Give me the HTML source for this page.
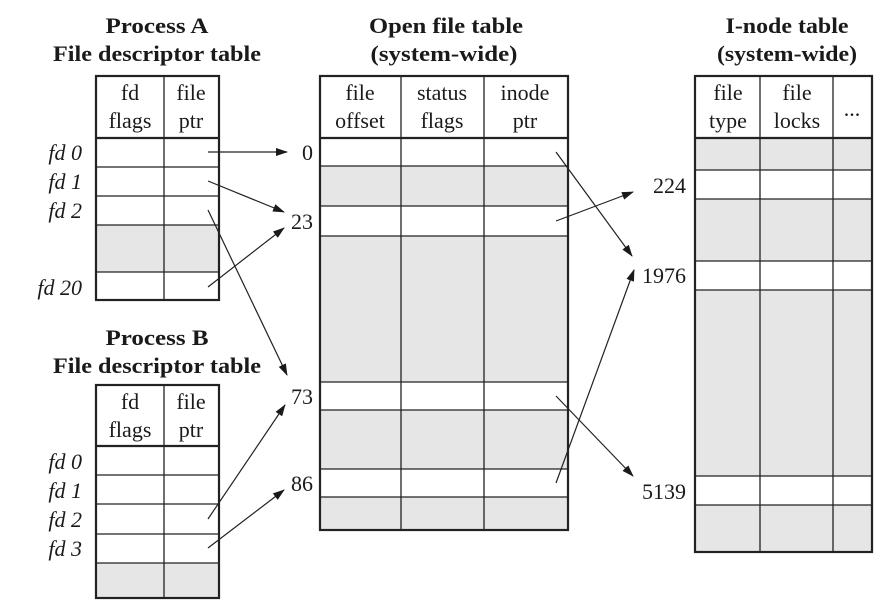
<!DOCTYPE html>
<html><head><meta charset="utf-8"><style>
html,body{margin:0;padding:0;background:#fff}
svg{display:block}
text{font-family:"Liberation Serif",serif;fill:#1a1a1a}
.t{font-weight:bold;font-size:22px}
.h{font-size:22px}
.fd{font-style:italic;font-size:22px}
.n{font-size:22px}
</style></head><body>
<svg width="892" height="609" viewBox="0 0 892 609" xmlns="http://www.w3.org/2000/svg">
<defs><marker id="a" markerWidth="12" markerHeight="8" refX="11" refY="4" orient="auto" markerUnits="userSpaceOnUse"><path d="M0,0 L12,4 L0,8 z" fill="#1a1a1a"/></marker></defs>

<!-- Titles -->
<text class="t" x="157" y="33" text-anchor="middle" textLength="103" lengthAdjust="spacingAndGlyphs">Process A</text>
<text class="t" x="157" y="61" text-anchor="middle" textLength="208" lengthAdjust="spacingAndGlyphs">File descriptor table</text>
<text class="t" x="446" y="33" text-anchor="middle" textLength="154" lengthAdjust="spacingAndGlyphs">Open file table</text>
<text class="t" x="444" y="61" text-anchor="middle" textLength="147" lengthAdjust="spacingAndGlyphs">(system-wide)</text>
<text class="t" x="787" y="33" text-anchor="middle" textLength="123" lengthAdjust="spacingAndGlyphs">I-node table</text>
<text class="t" x="787" y="61" text-anchor="middle" textLength="140" lengthAdjust="spacingAndGlyphs">(system-wide)</text>
<text class="t" x="157" y="345" text-anchor="middle" textLength="103" lengthAdjust="spacingAndGlyphs">Process B</text>
<text class="t" x="157" y="373" text-anchor="middle" textLength="208" lengthAdjust="spacingAndGlyphs">File descriptor table</text>

<g stroke="#222" fill="none">
<rect x="96" y="225" width="123" height="47" fill="#e5e6e5" stroke="none"/>
<line x1="96" y1="167" x2="219" y2="167" stroke-width="1.3"/>
<line x1="96" y1="196" x2="219" y2="196" stroke-width="1.3"/>
<line x1="96" y1="225" x2="219" y2="225" stroke-width="1.3"/>
<line x1="96" y1="272" x2="219" y2="272" stroke-width="1.3"/>
<line x1="96" y1="138" x2="219" y2="138" stroke-width="2.2"/>
<line x1="164" y1="76" x2="164" y2="300" stroke-width="1.3"/>
<rect x="96" y="76" width="123" height="224" stroke-width="2.2"/>

<rect x="96" y="563" width="123" height="35" fill="#e5e6e5" stroke="none"/>
<line x1="96" y1="475" x2="219" y2="475" stroke-width="1.3"/>
<line x1="96" y1="504" x2="219" y2="504" stroke-width="1.3"/>
<line x1="96" y1="534" x2="219" y2="534" stroke-width="1.3"/>
<line x1="96" y1="563" x2="219" y2="563" stroke-width="1.3"/>
<line x1="96" y1="446" x2="219" y2="446" stroke-width="2.2"/>
<line x1="164" y1="385" x2="164" y2="598" stroke-width="1.3"/>
<rect x="96" y="385" width="123" height="213" stroke-width="2.2"/>

<rect x="320" y="166" width="248" height="40" fill="#e5e6e5" stroke="none"/>
<rect x="320" y="236" width="248" height="146" fill="#e5e6e5" stroke="none"/>
<rect x="320" y="410" width="248" height="59" fill="#e5e6e5" stroke="none"/>
<rect x="320" y="497" width="248" height="33" fill="#e5e6e5" stroke="none"/>
<line x1="320" y1="166" x2="568" y2="166" stroke-width="1.3"/>
<line x1="320" y1="206" x2="568" y2="206" stroke-width="1.3"/>
<line x1="320" y1="236" x2="568" y2="236" stroke-width="1.3"/>
<line x1="320" y1="382" x2="568" y2="382" stroke-width="1.3"/>
<line x1="320" y1="410" x2="568" y2="410" stroke-width="1.3"/>
<line x1="320" y1="469" x2="568" y2="469" stroke-width="1.3"/>
<line x1="320" y1="497" x2="568" y2="497" stroke-width="1.3"/>
<line x1="320" y1="138" x2="568" y2="138" stroke-width="2.2"/>
<line x1="401" y1="76" x2="401" y2="530" stroke-width="1.3"/>
<line x1="484" y1="76" x2="484" y2="530" stroke-width="1.3"/>
<rect x="320" y="76" width="248" height="454" stroke-width="2.2"/>

<rect x="695" y="138" width="177" height="32" fill="#e5e6e5" stroke="none"/>
<rect x="695" y="199" width="177" height="62" fill="#e5e6e5" stroke="none"/>
<rect x="695" y="290" width="177" height="186" fill="#e5e6e5" stroke="none"/>
<rect x="695" y="505" width="177" height="47" fill="#e5e6e5" stroke="none"/>
<line x1="695" y1="170" x2="872" y2="170" stroke-width="1.3"/>
<line x1="695" y1="199" x2="872" y2="199" stroke-width="1.3"/>
<line x1="695" y1="261" x2="872" y2="261" stroke-width="1.3"/>
<line x1="695" y1="290" x2="872" y2="290" stroke-width="1.3"/>
<line x1="695" y1="476" x2="872" y2="476" stroke-width="1.3"/>
<line x1="695" y1="505" x2="872" y2="505" stroke-width="1.3"/>
<line x1="695" y1="138" x2="872" y2="138" stroke-width="2.2"/>
<line x1="760" y1="76" x2="760" y2="552" stroke-width="1.3"/>
<line x1="833" y1="76" x2="833" y2="552" stroke-width="1.3"/>
<rect x="695" y="76" width="177" height="476" stroke-width="2.2"/>

<g stroke-width="1.2" marker-end="url(#a)">
<line x1="208" y1="152" x2="287" y2="152"/>
<line x1="208" y1="181" x2="284" y2="212"/>
<line x1="208" y1="210" x2="287" y2="375"/>
<line x1="208" y1="287" x2="284" y2="228"/>
<line x1="208" y1="519" x2="285" y2="405"/>
<line x1="208" y1="548" x2="284" y2="490"/>
<line x1="556" y1="152" x2="632" y2="256"/>
<line x1="556" y1="221" x2="633" y2="192"/>
<line x1="556" y1="396" x2="633" y2="476"/>
<line x1="556" y1="483" x2="634" y2="270"/>
</g>
</g>

<text class="h" x="130" y="100" text-anchor="middle">fd</text>
<text class="h" x="130" y="128" text-anchor="middle">flags</text>
<text class="h" x="191" y="100" text-anchor="middle">file</text>
<text class="h" x="191" y="128" text-anchor="middle">ptr</text>
<text class="h" x="130" y="409" text-anchor="middle">fd</text>
<text class="h" x="130" y="437" text-anchor="middle">flags</text>
<text class="h" x="191" y="409" text-anchor="middle">file</text>
<text class="h" x="191" y="437" text-anchor="middle">ptr</text>
<text class="h" x="360" y="100" text-anchor="middle">file</text>
<text class="h" x="360" y="128" text-anchor="middle">offset</text>
<text class="h" x="442" y="100" text-anchor="middle">status</text>
<text class="h" x="442" y="128" text-anchor="middle">flags</text>
<text class="h" x="525" y="100" text-anchor="middle">inode</text>
<text class="h" x="525" y="128" text-anchor="middle">ptr</text>
<text class="h" x="728" y="100" text-anchor="middle">file</text>
<text class="h" x="728" y="128" text-anchor="middle">type</text>
<text class="h" x="797" y="100" text-anchor="middle">file</text>
<text class="h" x="797" y="128" text-anchor="middle">locks</text>
<text class="h" x="852" y="116" text-anchor="middle">...</text>

<text class="fd" x="82" y="160" text-anchor="end">fd 0</text>
<text class="fd" x="82" y="189" text-anchor="end">fd 1</text>
<text class="fd" x="82" y="218" text-anchor="end">fd 2</text>
<text class="fd" x="82" y="295" text-anchor="end">fd 20</text>
<text class="fd" x="82" y="469" text-anchor="end">fd 0</text>
<text class="fd" x="82" y="498" text-anchor="end">fd 1</text>
<text class="fd" x="82" y="527" text-anchor="end">fd 2</text>
<text class="fd" x="82" y="556" text-anchor="end">fd 3</text>

<text class="n" x="313" y="160" text-anchor="end">0</text>
<text class="n" x="313" y="229" text-anchor="end">23</text>
<text class="n" x="313" y="404" text-anchor="end">73</text>
<text class="n" x="313" y="491" text-anchor="end">86</text>
<text class="n" x="686" y="193" text-anchor="end">224</text>
<text class="n" x="686" y="283" text-anchor="end">1976</text>
<text class="n" x="686" y="499" text-anchor="end">5139</text>
</svg>
</body></html>
